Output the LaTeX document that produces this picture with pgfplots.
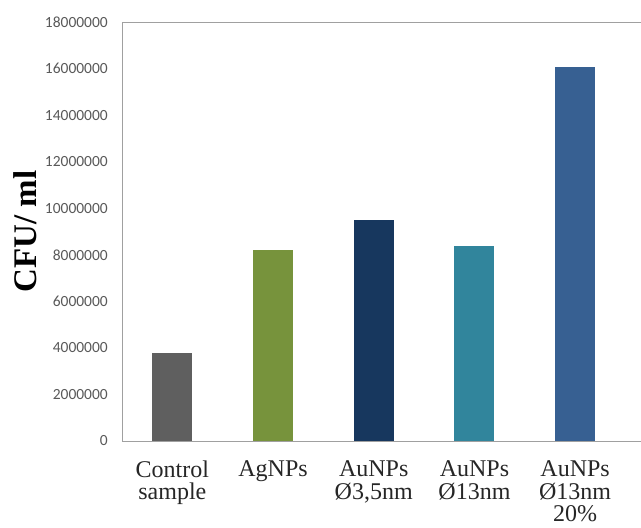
\documentclass[border=0pt]{standalone}
\usepackage{fontspec}
\setmainfont{Liberation Serif}
\newfontfamily\carlito{Carlito}
\usepackage{pgfplots}
\pgfplotsset{compat=1.18}
\definecolor{cgray}{HTML}{5F5F5F}
\definecolor{cgreen}{HTML}{77933C}
\definecolor{cnavy}{HTML}{17375E}
\definecolor{cteal}{HTML}{31859C}
\definecolor{cblue}{HTML}{376092}
\definecolor{tickgray}{HTML}{595959}
\definecolor{axgray}{HTML}{A0A0A0}
\begin{document}
\begin{tikzpicture}
\begin{axis}[
  scale only axis, width=519pt, height=419pt,
  xmin=-0.5, xmax=4.654, ymin=0, ymax=18000000,
  axis x line*=bottom, axis y line*=left,
  axis line style={draw=axgray, line width=0.9pt},
  ytick={0,2000000,4000000,6000000,8000000,10000000,12000000,14000000,16000000,18000000},
  scaled y ticks=false,
  yticklabel style={font=\carlito\fontsize{15.5}{18}\selectfont, text=tickgray,
    /pgf/number format/fixed, /pgf/number format/1000 sep={},
    /pgf/number format/assume math mode=true, inner sep=0pt, xshift=-14pt},
  xtick={0,1,2,3,4},
  xticklabels={{Control\\sample}, {AgNPs}, {AuNPs\\Ø3,5nm}, {AuNPs\\Ø13nm}, {AuNPs\\Ø13nm\\20\%}},
  xticklabel style={font=\fontsize{24}{22.5}\selectfont, align=center, inner sep=0pt, yshift=-19.5pt, text=black!85},
  major tick length=0pt,
  ylabel={CFU/ ml},
  every axis y label/.style={at={([xshift=-97pt]axis description cs:0,0.5)}, rotate=90, anchor=center, font=\bfseries\fontsize{33}{36}\selectfont},
]
\addplot[ybar, bar width=40pt, bar shift=0pt, fill=cgray, draw=none] coordinates {(0,3790000)};
\addplot[ybar, bar width=40pt, bar shift=0pt, fill=cgreen, draw=none] coordinates {(1,8200000)};
\addplot[ybar, bar width=40pt, bar shift=0pt, fill=cnavy, draw=none] coordinates {(2,9490000)};
\addplot[ybar, bar width=40pt, bar shift=0pt, fill=cteal, draw=none] coordinates {(3,8360000)};
\addplot[ybar, bar width=40pt, bar shift=0pt, fill=cblue, draw=none] coordinates {(4,16080000)};
\draw[axgray, line width=0.9pt] (rel axis cs:0,1) -- (rel axis cs:1,1);
\end{axis}
\pgfresetboundingbox
\path ([shift={(-122pt,-87pt)}]current axis.south west) rectangle ++(641pt,528pt);
\end{tikzpicture}
\end{document}
